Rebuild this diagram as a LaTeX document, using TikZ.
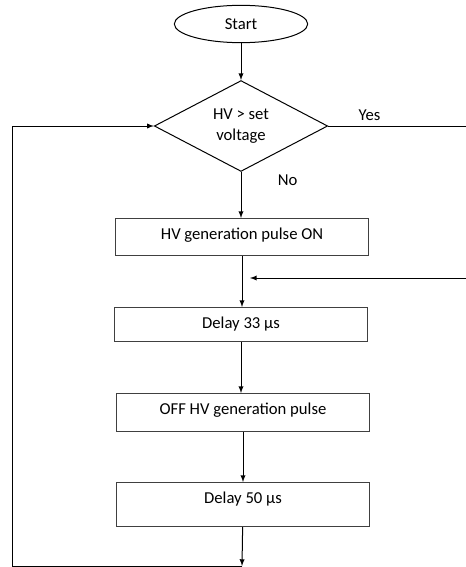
\documentclass[tikz,border=0pt]{standalone}
\usepackage{fontspec}
\setmainfont{Carlito}
\usetikzlibrary{shapes.geometric}

\begin{document}
\begin{tikzpicture}[x=0.75pt,y=-0.75pt,>=latex,line width=0.75pt,
    font=\fontsize{12.5}{15}\selectfont,
    startend/.style={draw,ellipse,minimum width=100pt,minimum height=28pt,inner sep=0pt},
    decide/.style={draw,diamond,minimum width=130pt,minimum height=66pt,inner sep=0pt,
        align=center,font=\fontsize{12.5}{16}\selectfont},
    procbox/.style={draw=black!75,rectangle,anchor=north,minimum width=190pt,
        inner ysep=0pt,text height=15.5pt,text depth=#1}]
    \useasboundingbox (0,0) rectangle (466,567);
    \node[startend] (start) at (241,24) {Start};
    \node[decide] (dec) at (241,126) {HV > set\\voltage};
    \node[procbox=12.25pt] (pon) at (242,218) {HV generation pulse ON};
    \node[procbox=10pt] (d33) at (241,307) {Delay 33 µs};
    \node[procbox=13pt] (offp) at (243,393) {OFF HV generation pulse};
    \node[procbox=17.5pt] (d50) at (243,482) {Delay 50 µs};
    \coordinate (yesend) at (466,126);
    \coordinate (retin) at (466,278);
    \coordinate (join) at (250,278);
    \coordinate (loopend) at (242,566);
    \coordinate (loopcorner) at (12,566);
    \draw[->] (start) -- (dec);
    \draw (dec.east) -- node[above,pos=0.3]{Yes} (yesend);
    \draw[->] (dec.south) -- node[pos=0.17,right=24pt]{No} (dec.south |- pon.north);
    \draw[->] (pon.south) -- (pon.south |- d33.north);
    \draw[->] (retin) -- (join);
    \draw[->] (d33.south) -- (d33.south |- offp.north);
    \draw[->] (offp) -- (d50);
    \draw[->] (d50) -- (loopend);
    \draw[->] (loopend) -- (loopcorner) |- (dec.west);
\end{tikzpicture}
\end{document}
